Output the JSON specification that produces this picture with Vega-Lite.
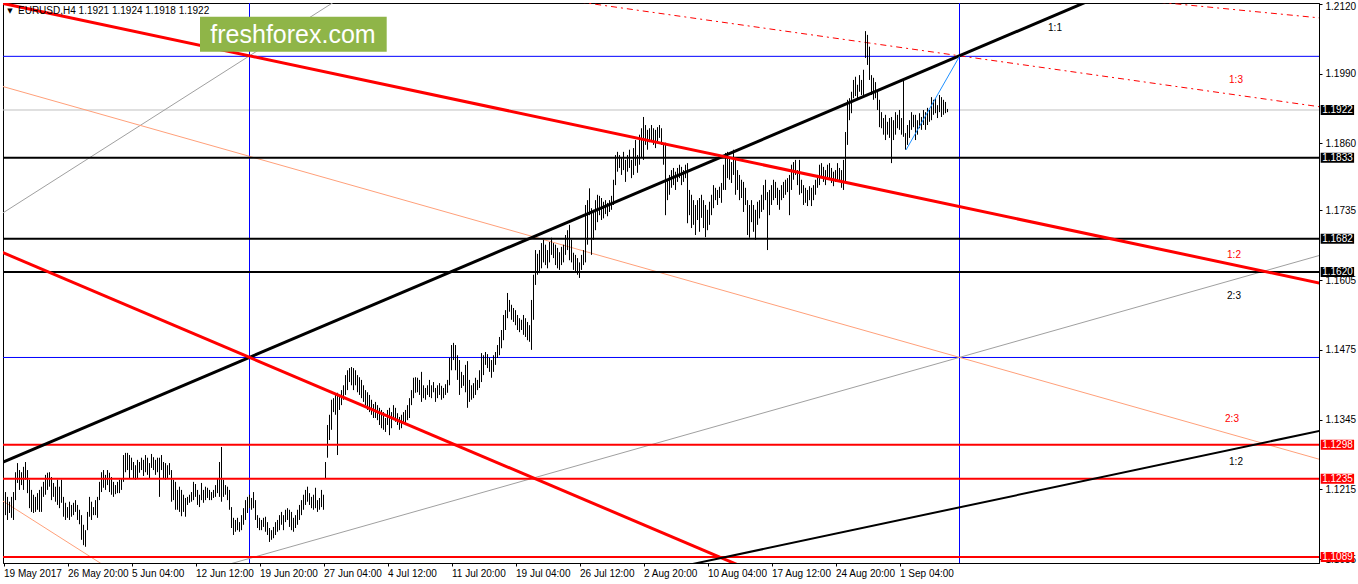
{
"$schema":"https://vega.github.io/schema/vega-lite/v6.json",
"width":1316,"height":560,
"autosize":{"type":"none"},
"padding":{"left":3,"top":3,"right":39,"bottom":21},
"background":"white",
"config":{"view":{"stroke":"black","strokeWidth":1},"font":"Liberation Sans"},
"datasets":{
"bid":[{"p":1.1922}],
"gannH":[{"p":1.2022},{"p":1.14608}],
"gannV":[{"i":123},{"i":478}],
"grayLines":[{"id":"g32","i":-1,"p":1.17285},{"id":"g32","i":170,"p":1.21346},{"id":"g23","i":110,"p":1.10726},{"id":"g23","i":660,"p":1.16531}],
"salmonLines":[{"id":"s23","i":-1,"p":1.19665},{"id":"s23","i":660,"p":1.12689},{"id":"s32","i":-1,"p":1.1195},{"id":"s32","i":50,"p":1.10739}],
"dashedLines":[{"id":"d13","i":280,"p":1.21275},{"id":"d13","i":660,"p":1.1927},{"id":"dB","i":570,"p":1.21257},{"id":"dB","i":660,"p":1.20929}],
"blackFan":[{"id":"b11","i":-1,"p":1.12647},{"id":"b11","i":560,"p":1.21528}],
"redFan":[{"id":"r12","i":-1,"p":1.21212},{"id":"r12","i":660,"p":1.15979},{"id":"r11","i":-1,"p":1.16573},{"id":"r11","i":380,"p":1.10541}],
"blackLower":[{"id":"b12","i":340,"p":1.10723},{"id":"b12","i":660,"p":1.13256}],
"blueShort":[{"id":"c","i":451.25,"p":1.18475},{"id":"c","i":478,"p":1.2022}],
"levelsBlack":[{"p":1.1833},{"p":1.1682},{"p":1.162}],
"levelsRed":[{"p":1.1298},{"p":1.1235},{"p":1.1089}],
"labelsBlack":[{"i":525.75,"p":1.20748,"t":"1:1"},{"i":615.25,"p":1.15754,"t":"2:3"},{"i":616.25,"p":1.1266,"t":"1:2"}],
"labelsRed":[{"i":616.25,"p":1.19779,"t":"1:3"},{"i":615.25,"p":1.16518,"t":"1:2"},{"i":614.25,"p":1.13462,"t":"2:3"}],
"watermark":[{"i0":98.25,"i1":191.6,"p0":1.20959,"p1":1.20306,"ti":144.75,"tp":1.20463,"t":"freshforex.com"}],
"header":[{"i":7.25,"p":1.21065,"t":"EURUSD,H4  1.1921 1.1924 1.1918 1.1922"}],
"headerMark":[{"i":3.25,"p":1.21074,"t":"▼"}],
"boxesBlack":[{"p":1.1922,"t":"1.1922"},{"p":1.1833,"t":"1.1833"},{"p":1.1682,"t":"1.1682"},{"p":1.162,"t":"1.1620"}],
"boxesRed":[{"p":1.1298,"t":"1.1298"},{"p":1.1235,"t":"1.1235"},{"p":1.1089,"t":"1.1089"}],
"bars":[
{"i":0,"h":1.1186,"l":1.1145},{"i":1,"h":1.1210,"l":1.1167},{"i":2,"h":1.1201,"l":1.1158},{"i":3,"h":1.1192,"l":1.1171},{"i":4,"h":1.1201,"l":1.1162},{"i":5,"h":1.1210,"l":1.1158},{"i":6,"h":1.1247,"l":1.1195},{"i":7,"h":1.1264,"l":1.1227},{"i":8,"h":1.1251,"l":1.1214},{"i":9,"h":1.1247,"l":1.1223},
{"i":10,"h":1.1257,"l":1.1214},{"i":11,"h":1.1266,"l":1.1233},{"i":12,"h":1.1251,"l":1.1208},{"i":13,"h":1.1233,"l":1.1180},{"i":14,"h":1.1214,"l":1.1173},{"i":15,"h":1.1205,"l":1.1171},{"i":16,"h":1.1201,"l":1.1173},{"i":17,"h":1.1208,"l":1.1177},{"i":18,"h":1.1214,"l":1.1173},{"i":19,"h":1.1220,"l":1.1173},
{"i":20,"h":1.1229,"l":1.1201},{"i":21,"h":1.1242,"l":1.1205},{"i":22,"h":1.1246,"l":1.1214},{"i":23,"h":1.1247,"l":1.1220},{"i":24,"h":1.1238,"l":1.1195},{"i":25,"h":1.1227,"l":1.1201},{"i":26,"h":1.1220,"l":1.1192},{"i":27,"h":1.1233,"l":1.1186},{"i":28,"h":1.1220,"l":1.1180},{"i":29,"h":1.1233,"l":1.1190},
{"i":30,"h":1.1201,"l":1.1164},{"i":31,"h":1.1190,"l":1.1158},{"i":32,"h":1.1182,"l":1.1162},{"i":33,"h":1.1192,"l":1.1158},{"i":34,"h":1.1186,"l":1.1164},{"i":35,"h":1.1190,"l":1.1167},{"i":36,"h":1.1195,"l":1.1173},{"i":37,"h":1.1186,"l":1.1158},{"i":38,"h":1.1177,"l":1.1150},{"i":39,"h":1.1167,"l":1.1121},
{"i":40,"h":1.1149,"l":1.1111},{"i":41,"h":1.1139,"l":1.1108},{"i":42,"h":1.1173,"l":1.1139},{"i":43,"h":1.1201,"l":1.1164},{"i":44,"h":1.1192,"l":1.1158},{"i":45,"h":1.1182,"l":1.1167},{"i":46,"h":1.1195,"l":1.1167},{"i":47,"h":1.1201,"l":1.1162},{"i":48,"h":1.1229,"l":1.1195},{"i":49,"h":1.1247,"l":1.1210},
{"i":50,"h":1.1251,"l":1.1218},{"i":51,"h":1.1242,"l":1.1214},{"i":52,"h":1.1251,"l":1.1223},{"i":53,"h":1.1246,"l":1.1210},{"i":54,"h":1.1238,"l":1.1205},{"i":55,"h":1.1229,"l":1.1201},{"i":56,"h":1.1223,"l":1.1206},{"i":57,"h":1.1229,"l":1.1208},{"i":58,"h":1.1233,"l":1.1208},{"i":59,"h":1.1236,"l":1.1214},
{"i":60,"h":1.1279,"l":1.1229},{"i":61,"h":1.1283,"l":1.1247},{"i":62,"h":1.1283,"l":1.1251},{"i":63,"h":1.1279,"l":1.1236},{"i":64,"h":1.1274,"l":1.1251},{"i":65,"h":1.1266,"l":1.1236},{"i":66,"h":1.1260,"l":1.1233},{"i":67,"h":1.1270,"l":1.1236},{"i":68,"h":1.1266,"l":1.1246},{"i":69,"h":1.1274,"l":1.1251},
{"i":70,"h":1.1270,"l":1.1240},{"i":71,"h":1.1279,"l":1.1247},{"i":72,"h":1.1274,"l":1.1242},{"i":73,"h":1.1264,"l":1.1236},{"i":74,"h":1.1281,"l":1.1255},{"i":75,"h":1.1275,"l":1.1251},{"i":76,"h":1.1270,"l":1.1242},{"i":77,"h":1.1274,"l":1.1247},{"i":78,"h":1.1274,"l":1.1201},{"i":79,"h":1.1279,"l":1.1251},
{"i":80,"h":1.1266,"l":1.1236},{"i":81,"h":1.1264,"l":1.1233},{"i":82,"h":1.1260,"l":1.1236},{"i":83,"h":1.1264,"l":1.1242},{"i":84,"h":1.1251,"l":1.1192},{"i":85,"h":1.1233,"l":1.1195},{"i":86,"h":1.1229,"l":1.1177},{"i":87,"h":1.1214,"l":1.1177},{"i":88,"h":1.1220,"l":1.1173},{"i":89,"h":1.1214,"l":1.1165},
{"i":90,"h":1.1205,"l":1.1173},{"i":91,"h":1.1199,"l":1.1164},{"i":92,"h":1.1201,"l":1.1186},{"i":93,"h":1.1205,"l":1.1190},{"i":94,"h":1.1210,"l":1.1192},{"i":95,"h":1.1229,"l":1.1195},{"i":96,"h":1.1225,"l":1.1201},{"i":97,"h":1.1214,"l":1.1186},{"i":98,"h":1.1205,"l":1.1182},{"i":99,"h":1.1227,"l":1.1195},
{"i":100,"h":1.1214,"l":1.1190},{"i":101,"h":1.1220,"l":1.1195},{"i":102,"h":1.1218,"l":1.1199},{"i":103,"h":1.1214,"l":1.1195},{"i":104,"h":1.1210,"l":1.1195},{"i":105,"h":1.1214,"l":1.1199},{"i":106,"h":1.1223,"l":1.1201},{"i":107,"h":1.1236,"l":1.1208},{"i":108,"h":1.1266,"l":1.1201},{"i":109,"h":1.1294,"l":1.1192},
{"i":110,"h":1.1233,"l":1.1201},{"i":111,"h":1.1223,"l":1.1205},{"i":112,"h":1.1220,"l":1.1195},{"i":113,"h":1.1214,"l":1.1177},{"i":114,"h":1.1182,"l":1.1143},{"i":115,"h":1.1162,"l":1.1130},{"i":116,"h":1.1158,"l":1.1136},{"i":117,"h":1.1162,"l":1.1139},{"i":118,"h":1.1154,"l":1.1136},{"i":119,"h":1.1167,"l":1.1139},
{"i":120,"h":1.1180,"l":1.1149},{"i":121,"h":1.1195,"l":1.1158},{"i":122,"h":1.1201,"l":1.1171},{"i":123,"h":1.1205,"l":1.1180},{"i":124,"h":1.1199,"l":1.1177},{"i":125,"h":1.1210,"l":1.1180},{"i":126,"h":1.1195,"l":1.1158},{"i":127,"h":1.1167,"l":1.1143},{"i":128,"h":1.1162,"l":1.1139},{"i":129,"h":1.1158,"l":1.1139},
{"i":130,"h":1.1162,"l":1.1145},{"i":131,"h":1.1164,"l":1.1136},{"i":132,"h":1.1154,"l":1.1130},{"i":133,"h":1.1143,"l":1.1117},{"i":134,"h":1.1139,"l":1.1121},{"i":135,"h":1.1145,"l":1.1124},{"i":136,"h":1.1154,"l":1.1130},{"i":137,"h":1.1158,"l":1.1136},{"i":138,"h":1.1167,"l":1.1139},{"i":139,"h":1.1173,"l":1.1149},
{"i":140,"h":1.1167,"l":1.1139},{"i":141,"h":1.1177,"l":1.1154},{"i":142,"h":1.1180,"l":1.1158},{"i":143,"h":1.1177,"l":1.1145},{"i":144,"h":1.1173,"l":1.1139},{"i":145,"h":1.1162,"l":1.1136},{"i":146,"h":1.1167,"l":1.1143},{"i":147,"h":1.1177,"l":1.1149},{"i":148,"h":1.1186,"l":1.1158},{"i":149,"h":1.1195,"l":1.1167},
{"i":150,"h":1.1205,"l":1.1177},{"i":151,"h":1.1214,"l":1.1186},{"i":152,"h":1.1220,"l":1.1192},{"i":153,"h":1.1208,"l":1.1186},{"i":154,"h":1.1201,"l":1.1180},{"i":155,"h":1.1205,"l":1.1177},{"i":156,"h":1.1218,"l":1.1180},{"i":157,"h":1.1195,"l":1.1173},{"i":158,"h":1.1199,"l":1.1177},{"i":159,"h":1.1214,"l":1.1182},
{"i":160,"h":1.1205,"l":1.1177},{"i":161,"h":1.1266,"l":1.1236},{"i":162,"h":1.1335,"l":1.1274},{"i":163,"h":1.1354,"l":1.1307},{"i":164,"h":1.1382,"l":1.1326},{"i":165,"h":1.1385,"l":1.1359},{"i":166,"h":1.1391,"l":1.1354},{"i":167,"h":1.1395,"l":1.1279},{"i":168,"h":1.1391,"l":1.1363},{"i":169,"h":1.1400,"l":1.1372},
{"i":170,"h":1.1409,"l":1.1382},{"i":171,"h":1.1428,"l":1.1391},{"i":172,"h":1.1437,"l":1.1400},{"i":173,"h":1.1441,"l":1.1415},{"i":174,"h":1.1443,"l":1.1409},{"i":175,"h":1.1441,"l":1.1400},{"i":176,"h":1.1437,"l":1.1409},{"i":177,"h":1.1428,"l":1.1396},{"i":178,"h":1.1424,"l":1.1391},{"i":179,"h":1.1419,"l":1.1385},
{"i":180,"h":1.1409,"l":1.1378},{"i":181,"h":1.1400,"l":1.1372},{"i":182,"h":1.1396,"l":1.1363},{"i":183,"h":1.1391,"l":1.1359},{"i":184,"h":1.1382,"l":1.1354},{"i":185,"h":1.1374,"l":1.1348},{"i":186,"h":1.1378,"l":1.1348},{"i":187,"h":1.1372,"l":1.1344},{"i":188,"h":1.1367,"l":1.1335},{"i":189,"h":1.1363,"l":1.1329},
{"i":190,"h":1.1359,"l":1.1326},{"i":191,"h":1.1348,"l":1.1322},{"i":192,"h":1.1363,"l":1.1335},{"i":193,"h":1.1367,"l":1.1316},{"i":194,"h":1.1359,"l":1.1329},{"i":195,"h":1.1372,"l":1.1344},{"i":196,"h":1.1367,"l":1.1341},{"i":197,"h":1.1357,"l":1.1335},{"i":198,"h":1.1350,"l":1.1326},{"i":199,"h":1.1354,"l":1.1329},
{"i":200,"h":1.1359,"l":1.1339},{"i":201,"h":1.1363,"l":1.1335},{"i":202,"h":1.1372,"l":1.1344},{"i":203,"h":1.1385,"l":1.1348},{"i":204,"h":1.1400,"l":1.1372},{"i":205,"h":1.1423,"l":1.1385},{"i":206,"h":1.1424,"l":1.1395},{"i":207,"h":1.1423,"l":1.1396},{"i":208,"h":1.1419,"l":1.1391},{"i":209,"h":1.1434,"l":1.1378},
{"i":210,"h":1.1409,"l":1.1385},{"i":211,"h":1.1404,"l":1.1382},{"i":212,"h":1.1409,"l":1.1391},{"i":213,"h":1.1419,"l":1.1387},{"i":214,"h":1.1409,"l":1.1385},{"i":215,"h":1.1415,"l":1.1396},{"i":216,"h":1.1404,"l":1.1378},{"i":217,"h":1.1409,"l":1.1385},{"i":218,"h":1.1413,"l":1.1391},{"i":219,"h":1.1408,"l":1.1382},
{"i":220,"h":1.1404,"l":1.1385},{"i":221,"h":1.1411,"l":1.1391},{"i":222,"h":1.1419,"l":1.1395},{"i":223,"h":1.1460,"l":1.1409},{"i":224,"h":1.1484,"l":1.1437},{"i":225,"h":1.1488,"l":1.1456},{"i":226,"h":1.1484,"l":1.1437},{"i":227,"h":1.1465,"l":1.1419},{"i":228,"h":1.1456,"l":1.1391},{"i":229,"h":1.1434,"l":1.1404},
{"i":230,"h":1.1428,"l":1.1408},{"i":231,"h":1.1447,"l":1.1396},{"i":232,"h":1.1454,"l":1.1367},{"i":233,"h":1.1419,"l":1.1378},{"i":234,"h":1.1409,"l":1.1382},{"i":235,"h":1.1413,"l":1.1385},{"i":236,"h":1.1423,"l":1.1391},{"i":237,"h":1.1419,"l":1.1400},{"i":238,"h":1.1437,"l":1.1404},{"i":239,"h":1.1469,"l":1.1415},
{"i":240,"h":1.1465,"l":1.1428},{"i":241,"h":1.1471,"l":1.1447},{"i":242,"h":1.1467,"l":1.1441},{"i":243,"h":1.1460,"l":1.1434},{"i":244,"h":1.1456,"l":1.1423},{"i":245,"h":1.1465,"l":1.1434},{"i":246,"h":1.1471,"l":1.1447},{"i":247,"h":1.1484,"l":1.1460},{"i":248,"h":1.1499,"l":1.1465},{"i":249,"h":1.1512,"l":1.1478},
{"i":250,"h":1.1540,"l":1.1493},{"i":251,"h":1.1549,"l":1.1512},{"i":252,"h":1.1581,"l":1.1534},{"i":253,"h":1.1568,"l":1.1546},{"i":254,"h":1.1559,"l":1.1531},{"i":255,"h":1.1553,"l":1.1527},{"i":256,"h":1.1549,"l":1.1521},{"i":257,"h":1.1540,"l":1.1512},{"i":258,"h":1.1534,"l":1.1508},{"i":259,"h":1.1531,"l":1.1512},
{"i":260,"h":1.1540,"l":1.1503},{"i":261,"h":1.1534,"l":1.1499},{"i":262,"h":1.1527,"l":1.1493},{"i":263,"h":1.1521,"l":1.1490},{"i":264,"h":1.1568,"l":1.1475},{"i":265,"h":1.1615,"l":1.1531},{"i":266,"h":1.1661,"l":1.1596},{"i":267,"h":1.1654,"l":1.1615},{"i":268,"h":1.1661,"l":1.1618},{"i":269,"h":1.1674,"l":1.1627},
{"i":270,"h":1.1680,"l":1.1638},{"i":271,"h":1.1671,"l":1.1633},{"i":272,"h":1.1661,"l":1.1627},{"i":273,"h":1.1676,"l":1.1638},{"i":274,"h":1.1684,"l":1.1652},{"i":275,"h":1.1674,"l":1.1646},{"i":276,"h":1.1671,"l":1.1633},{"i":277,"h":1.1665,"l":1.1627},{"i":278,"h":1.1657,"l":1.1624},{"i":279,"h":1.1667,"l":1.1633},
{"i":280,"h":1.1671,"l":1.1638},{"i":281,"h":1.1689,"l":1.1652},{"i":282,"h":1.1698,"l":1.1661},{"i":283,"h":1.1708,"l":1.1642},{"i":284,"h":1.1680,"l":1.1638},{"i":285,"h":1.1656,"l":1.1624},{"i":286,"h":1.1652,"l":1.1620},{"i":287,"h":1.1646,"l":1.1615},{"i":288,"h":1.1638,"l":1.1609},{"i":289,"h":1.1652,"l":1.1624},
{"i":290,"h":1.1661,"l":1.1633},{"i":291,"h":1.1745,"l":1.1638},{"i":292,"h":1.1754,"l":1.1671},{"i":293,"h":1.1776,"l":1.1726},{"i":294,"h":1.1739,"l":1.1652},{"i":295,"h":1.1736,"l":1.1680},{"i":296,"h":1.1754,"l":1.1698},{"i":297,"h":1.1764,"l":1.1713},{"i":298,"h":1.1762,"l":1.1726},{"i":299,"h":1.1758,"l":1.1717},
{"i":300,"h":1.1751,"l":1.1720},{"i":301,"h":1.1754,"l":1.1728},{"i":302,"h":1.1749,"l":1.1724},{"i":303,"h":1.1754,"l":1.1732},{"i":304,"h":1.1762,"l":1.1736},{"i":305,"h":1.1792,"l":1.1745},{"i":306,"h":1.1838,"l":1.1782},{"i":307,"h":1.1844,"l":1.1807},{"i":308,"h":1.1838,"l":1.1814},{"i":309,"h":1.1833,"l":1.1801},
{"i":310,"h":1.1844,"l":1.1810},{"i":311,"h":1.1829,"l":1.1788},{"i":312,"h":1.1838,"l":1.1807},{"i":313,"h":1.1848,"l":1.1814},{"i":314,"h":1.1829,"l":1.1795},{"i":315,"h":1.1851,"l":1.1801},{"i":316,"h":1.1866,"l":1.1818},{"i":317,"h":1.1838,"l":1.1805},{"i":318,"h":1.1876,"l":1.1820},{"i":319,"h":1.1888,"l":1.1833},
{"i":320,"h":1.1909,"l":1.1829},{"i":321,"h":1.1894,"l":1.1857},{"i":322,"h":1.1885,"l":1.1848},{"i":323,"h":1.1888,"l":1.1862},{"i":324,"h":1.1894,"l":1.1866},{"i":325,"h":1.1888,"l":1.1857},{"i":326,"h":1.1885,"l":1.1851},{"i":327,"h":1.1890,"l":1.1862},{"i":328,"h":1.1894,"l":1.1870},{"i":329,"h":1.1888,"l":1.1857},
{"i":330,"h":1.1857,"l":1.1820},{"i":331,"h":1.1861,"l":1.1726},{"i":332,"h":1.1792,"l":1.1754},{"i":333,"h":1.1801,"l":1.1764},{"i":334,"h":1.1810,"l":1.1777},{"i":335,"h":1.1814,"l":1.1782},{"i":336,"h":1.1807,"l":1.1773},{"i":337,"h":1.1814,"l":1.1788},{"i":338,"h":1.1820,"l":1.1795},{"i":339,"h":1.1816,"l":1.1782},
{"i":340,"h":1.1810,"l":1.1788},{"i":341,"h":1.1820,"l":1.1795},{"i":342,"h":1.1823,"l":1.1711},{"i":343,"h":1.1773,"l":1.1726},{"i":344,"h":1.1764,"l":1.1702},{"i":345,"h":1.1754,"l":1.1708},{"i":346,"h":1.1745,"l":1.1689},{"i":347,"h":1.1754,"l":1.1717},{"i":348,"h":1.1758,"l":1.1695},{"i":349,"h":1.1764,"l":1.1721},
{"i":350,"h":1.1754,"l":1.1702},{"i":351,"h":1.1745,"l":1.1685},{"i":352,"h":1.1736,"l":1.1698},{"i":353,"h":1.1751,"l":1.1708},{"i":354,"h":1.1764,"l":1.1726},{"i":355,"h":1.1782,"l":1.1739},{"i":356,"h":1.1777,"l":1.1754},{"i":357,"h":1.1773,"l":1.1745},{"i":358,"h":1.1779,"l":1.1758},{"i":359,"h":1.1786,"l":1.1749},
{"i":360,"h":1.1820,"l":1.1773},{"i":361,"h":1.1842,"l":1.1773},{"i":362,"h":1.1844,"l":1.1795},{"i":363,"h":1.1833,"l":1.1792},{"i":364,"h":1.1825,"l":1.1786},{"i":365,"h":1.1848,"l":1.1801},{"i":366,"h":1.1833,"l":1.1764},{"i":367,"h":1.1810,"l":1.1773},{"i":368,"h":1.1801,"l":1.1754},{"i":369,"h":1.1792,"l":1.1758},
{"i":370,"h":1.1788,"l":1.1732},{"i":371,"h":1.1777,"l":1.1745},{"i":372,"h":1.1754,"l":1.1689},{"i":373,"h":1.1745,"l":1.1684},{"i":374,"h":1.1754,"l":1.1713},{"i":375,"h":1.1745,"l":1.1695},{"i":376,"h":1.1736,"l":1.1680},{"i":377,"h":1.1751,"l":1.1708},{"i":378,"h":1.1754,"l":1.1720},{"i":379,"h":1.1764,"l":1.1732},
{"i":380,"h":1.1782,"l":1.1736},{"i":381,"h":1.1792,"l":1.1754},{"i":382,"h":1.1769,"l":1.1661},{"i":383,"h":1.1773,"l":1.1726},{"i":384,"h":1.1782,"l":1.1745},{"i":385,"h":1.1792,"l":1.1754},{"i":386,"h":1.1788,"l":1.1758},{"i":387,"h":1.1777,"l":1.1745},{"i":388,"h":1.1773,"l":1.1736},{"i":389,"h":1.1782,"l":1.1754},
{"i":390,"h":1.1788,"l":1.1758},{"i":391,"h":1.1792,"l":1.1764},{"i":392,"h":1.1795,"l":1.1769},{"i":393,"h":1.1801,"l":1.1726},{"i":394,"h":1.1820,"l":1.1773},{"i":395,"h":1.1825,"l":1.1792},{"i":396,"h":1.1829,"l":1.1801},{"i":397,"h":1.1810,"l":1.1782},{"i":398,"h":1.1829,"l":1.1764},{"i":399,"h":1.1792,"l":1.1767},
{"i":400,"h":1.1782,"l":1.1745},{"i":401,"h":1.1777,"l":1.1749},{"i":402,"h":1.1773,"l":1.1743},{"i":403,"h":1.1780,"l":1.1754},{"i":404,"h":1.1777,"l":1.1743},{"i":405,"h":1.1782,"l":1.1754},{"i":406,"h":1.1792,"l":1.1764},{"i":407,"h":1.1801,"l":1.1777},{"i":408,"h":1.1820,"l":1.1782},{"i":409,"h":1.1823,"l":1.1795},
{"i":410,"h":1.1816,"l":1.1788},{"i":411,"h":1.1810,"l":1.1782},{"i":412,"h":1.1820,"l":1.1792},{"i":413,"h":1.1823,"l":1.1795},{"i":414,"h":1.1814,"l":1.1786},{"i":415,"h":1.1807,"l":1.1780},{"i":416,"h":1.1810,"l":1.1788},{"i":417,"h":1.1823,"l":1.1792},{"i":418,"h":1.1814,"l":1.1788},{"i":419,"h":1.1810,"l":1.1777},
{"i":420,"h":1.1829,"l":1.1773},{"i":421,"h":1.1881,"l":1.1788},{"i":422,"h":1.1941,"l":1.1857},{"i":423,"h":1.1944,"l":1.1903},{"i":424,"h":1.1956,"l":1.1916},{"i":425,"h":1.1978,"l":1.1944},{"i":426,"h":1.1984,"l":1.1948},{"i":427,"h":1.1969,"l":1.1941},{"i":428,"h":1.1987,"l":1.1956},{"i":429,"h":1.1978,"l":1.1950},
{"i":430,"h":1.1997,"l":1.1950},{"i":431,"h":1.2069,"l":1.2019},{"i":432,"h":1.2062,"l":1.2006},{"i":433,"h":1.2040,"l":1.1978},{"i":434,"h":1.1987,"l":1.1950},{"i":435,"h":1.1982,"l":1.1941},{"i":436,"h":1.1974,"l":1.1944},{"i":437,"h":1.1959,"l":1.1922},{"i":438,"h":1.1941,"l":1.1890},{"i":439,"h":1.1918,"l":1.1888},
{"i":440,"h":1.1907,"l":1.1876},{"i":441,"h":1.1913,"l":1.1866},{"i":442,"h":1.1900,"l":1.1876},{"i":443,"h":1.1907,"l":1.1870},{"i":444,"h":1.1909,"l":1.1823},{"i":445,"h":1.1903,"l":1.1866},{"i":446,"h":1.1918,"l":1.1876},{"i":447,"h":1.1913,"l":1.1888},{"i":448,"h":1.1922,"l":1.1885},{"i":449,"h":1.1907,"l":1.1876},
{"i":450,"h":1.1978,"l":1.1872},{"i":451,"h":1.1879,"l":1.1848},{"i":452,"h":1.1894,"l":1.1857},{"i":453,"h":1.1903,"l":1.1870},{"i":454,"h":1.1918,"l":1.1885},{"i":455,"h":1.1913,"l":1.1890},{"i":456,"h":1.1913,"l":1.1866},{"i":457,"h":1.1903,"l":1.1876},{"i":458,"h":1.1916,"l":1.1888},{"i":459,"h":1.1909,"l":1.1885},
{"i":460,"h":1.1922,"l":1.1894},{"i":461,"h":1.1918,"l":1.1885},{"i":462,"h":1.1926,"l":1.1894},{"i":463,"h":1.1922,"l":1.1900},{"i":464,"h":1.1946,"l":1.1903},{"i":465,"h":1.1941,"l":1.1913},{"i":466,"h":1.1944,"l":1.1916},{"i":467,"h":1.1931,"l":1.1907},{"i":468,"h":1.1950,"l":1.1918},{"i":469,"h":1.1946,"l":1.1909},
{"i":470,"h":1.1941,"l":1.1913},{"i":471,"h":1.1937,"l":1.1916},{"i":472,"h":1.1924,"l":1.1918}
]
},
"layer":[
{"data":{"name":"bars"},"mark":{"type":"rule","color":"black","strokeWidth":1,"clip":true,"opacity":0},
 "encoding":{
  "x":{"field":"i","type":"quantitative","scale":{"domain":[-0.25,657.75],"nice":false,"zero":false},
   "axis":{"orient":"bottom","title":null,"grid":false,"values":[0,32,64,96,128,160,192,224,256,288,320,352,384,416,448],
    "labelExpr":"['19 May 2017','26 May 20:00','5 Jun 04:00','12 Jun 12:00','19 Jun 20:00','27 Jun 04:00','4 Jul 12:00','11 Jul 20:00','19 Jul 04:00','26 Jul 12:00','2 Aug 20:00','10 Aug 04:00','17 Aug 12:00','24 Aug 20:00','1 Sep 04:00'][round(datum.value/32)]",
    "tickSize":3,"tickColor":"black","domainColor":"black","labelAlign":"left","labelPadding":2,"labelFont":"Liberation Sans","labelFontSize":10,"labelColor":"black","labelFlush":false,"labelOverlap":false}},
  "y":{"field":"h","type":"quantitative","scale":{"domain":[1.10778,1.21214],"nice":false,"zero":false},
   "axis":{"orient":"right","title":null,"grid":false,"values":[1.212,1.2055,1.199,1.1925,1.186,1.18,1.1735,1.167,1.1605,1.154,1.1475,1.141,1.1345,1.128,1.1215,1.115,1.1085],
    "format":".4f","tickSize":3,"tickColor":"black","domainColor":"black","labelPadding":3,"labelFont":"Liberation Sans","labelFontSize":10,"labelColor":"black","labelFlush":2,"labelFlushOffset":2,"labelOverlap":false}},
  "y2":{"field":"l"}}},
{"data":{"name":"bid"},"mark":{"type":"rule","color":"#c0c0c0","strokeWidth":1},"encoding":{"y":{"field":"p","type":"quantitative"}}},
{"data":{"name":"gannH"},"mark":{"type":"rule","color":"#0000ff","strokeWidth":1},"encoding":{"y":{"field":"p","type":"quantitative"}}},
{"data":{"name":"gannV"},"mark":{"type":"rule","color":"#0000ff","strokeWidth":1},"encoding":{"x":{"field":"i","type":"quantitative"}}},
{"data":{"name":"grayLines"},"mark":{"type":"line","color":"#a0a0a0","strokeWidth":1,"clip":true},"encoding":{"x":{"field":"i","type":"quantitative"},"y":{"field":"p","type":"quantitative"},"detail":{"field":"id"}}},
{"data":{"name":"salmonLines"},"mark":{"type":"line","color":"#ffa07a","strokeWidth":1,"clip":true},"encoding":{"x":{"field":"i","type":"quantitative"},"y":{"field":"p","type":"quantitative"},"detail":{"field":"id"}}},
{"data":{"name":"dashedLines"},"mark":{"type":"line","color":"#ff0000","strokeWidth":1,"strokeDash":[6,4,2,4],"clip":true},"encoding":{"x":{"field":"i","type":"quantitative"},"y":{"field":"p","type":"quantitative"},"detail":{"field":"id"}}},
{"data":{"name":"bars"},"mark":{"type":"rule","color":"black","strokeWidth":1,"clip":true},"encoding":{"x":{"field":"i","type":"quantitative"},"y":{"field":"h","type":"quantitative"},"y2":{"field":"l"}}},
{"data":{"name":"levelsBlack"},"mark":{"type":"rule","color":"black","strokeWidth":2},"encoding":{"y":{"field":"p","type":"quantitative"}}},
{"data":{"name":"levelsRed"},"mark":{"type":"rule","color":"#ff0000","strokeWidth":2},"encoding":{"y":{"field":"p","type":"quantitative"}}},
{"data":{"name":"blackFan"},"mark":{"type":"line","color":"black","strokeWidth":3,"clip":true},"encoding":{"x":{"field":"i","type":"quantitative"},"y":{"field":"p","type":"quantitative"},"detail":{"field":"id"}}},
{"data":{"name":"redFan"},"mark":{"type":"line","color":"#ff0000","strokeWidth":3,"clip":true},"encoding":{"x":{"field":"i","type":"quantitative"},"y":{"field":"p","type":"quantitative"},"detail":{"field":"id"}}},
{"data":{"name":"blackLower"},"mark":{"type":"line","color":"black","strokeWidth":2,"clip":true},"encoding":{"x":{"field":"i","type":"quantitative"},"y":{"field":"p","type":"quantitative"},"detail":{"field":"id"}}},
{"data":{"name":"blueShort"},"mark":{"type":"line","color":"#1e90ff","strokeWidth":1,"clip":true},"encoding":{"x":{"field":"i","type":"quantitative"},"y":{"field":"p","type":"quantitative"},"detail":{"field":"id"}}},
{"data":{"name":"labelsBlack"},"mark":{"type":"text","color":"black","font":"Liberation Sans","fontSize":10,"align":"center","baseline":"middle"},"encoding":{"x":{"field":"i","type":"quantitative"},"y":{"field":"p","type":"quantitative"},"text":{"field":"t"}}},
{"data":{"name":"labelsRed"},"mark":{"type":"text","color":"#ff0000","font":"Liberation Sans","fontSize":10,"align":"center","baseline":"middle"},"encoding":{"x":{"field":"i","type":"quantitative"},"y":{"field":"p","type":"quantitative"},"text":{"field":"t"}}},
{"data":{"name":"watermark"},"mark":{"type":"rect","color":"#8fb548","opacity":1},"encoding":{"x":{"field":"i0","type":"quantitative"},"x2":{"field":"i1"},"y":{"field":"p0","type":"quantitative"},"y2":{"field":"p1"}}},
{"data":{"name":"watermark"},"mark":{"type":"text","color":"white","font":"Liberation Sans","fontSize":25,"align":"center","baseline":"alphabetic"},"encoding":{"x":{"field":"ti","type":"quantitative"},"y":{"field":"tp","type":"quantitative"},"text":{"field":"t"}}},
{"data":{"name":"header"},"mark":{"type":"text","color":"black","font":"Liberation Sans","fontSize":10,"align":"left","baseline":"middle"},"encoding":{"x":{"field":"i","type":"quantitative"},"y":{"field":"p","type":"quantitative"},"text":{"field":"t"}}},
{"data":{"name":"headerMark"},"mark":{"type":"text","color":"black","font":"DejaVu Sans","fontSize":7,"align":"center","baseline":"middle"},"encoding":{"x":{"field":"i","type":"quantitative"},"y":{"field":"p","type":"quantitative"},"text":{"field":"t"}}},
{"data":{"name":"boxesBlack"},"mark":{"type":"rect","color":"black","height":10,"clip":false},"encoding":{"x":{"datum":658.6,"type":"quantitative"},"x2":{"datum":675.3},"y":{"field":"p","type":"quantitative"}}},
{"data":{"name":"boxesRed"},"mark":{"type":"rect","color":"#ff0000","height":10,"clip":false},"encoding":{"x":{"datum":658.6,"type":"quantitative"},"x2":{"datum":675.3},"y":{"field":"p","type":"quantitative"}}},
{"data":{"name":"boxesBlack"},"mark":{"type":"text","color":"white","font":"Liberation Sans","fontSize":10,"align":"center","baseline":"middle","clip":false},"encoding":{"x":{"datum":667,"type":"quantitative"},"y":{"field":"p","type":"quantitative"},"text":{"field":"t"}}},
{"data":{"name":"boxesRed"},"mark":{"type":"text","color":"white","font":"Liberation Sans","fontSize":10,"align":"center","baseline":"middle","clip":false},"encoding":{"x":{"datum":667,"type":"quantitative"},"y":{"field":"p","type":"quantitative"},"text":{"field":"t"}}}
]
}
